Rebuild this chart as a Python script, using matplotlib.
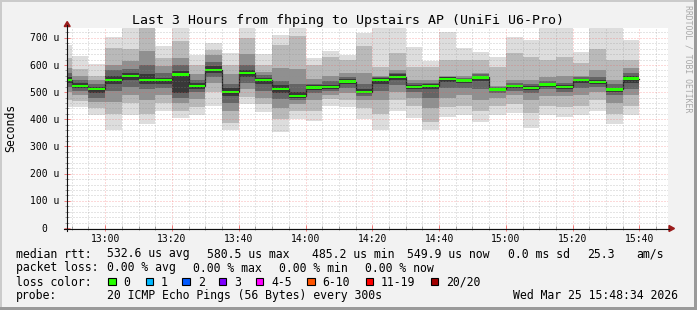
import matplotlib
matplotlib.use("Agg")
import matplotlib.pyplot as plt
from matplotlib.patches import Rectangle, Polygon
from matplotlib.lines import Line2D

W, H, DPI = 697, 310, 100
MONO = "DejaVu Sans Mono"

title = "Last 3 Hours from fhping to Upstairs AP (UniFi U6-Pro)"
y_label = "Seconds"
credit = "RRDTOOL / TOBI OETIKER"

# 5-minute slots (start, minutes after 12:00)
slot_minutes = [45 + 5 * i for i in range(35)]

median = [545, 523, 513, 545, 560, 545, 545, 565, 523, 582, 502, 569, 545, 513, 486,
          517, 520, 539, 502, 545, 557, 520, 523, 549, 543, 554, 510, 523, 516, 528,
          520, 545, 537, 510, 550]
smoke_max = [672, 633, 602, 702, 737, 760, 668, 745, 637, 680, 645, 740, 641, 711, 740,
             624, 653, 635, 717, 741, 741, 665, 613, 723, 661, 649, 631, 704, 692, 739,
             739, 649, 739, 739, 691]
smoke_min = [445, 446, 415, 360, 415, 383, 430, 405, 415, 450, 359, 458, 428, 355, 400,
             394, 450, 445, 402, 361, 430, 405, 361, 410, 415, 391, 417, 423, 369, 417,
             410, 417, 432, 381, 415]
p3_hi = [625, 585, 560, 662, 660, 740, 625, 690, 600, 655, 600, 700, 600, 672, 705,
         600, 630, 618, 668, 594, 643, 594, 594, 619, 619, 619, 594, 643, 631, 619,
         631, 606, 660, 620, 619]
p3_lo = [470, 468, 440, 420, 460, 420, 460, 430, 445, 500, 385, 482, 455, 400, 430,
         430, 475, 470, 440, 420, 470, 450, 391, 445, 450, 430, 450, 455, 425, 450,
         445, 450, 470, 420, 450]
p5_hi = [590, 560, 545, 600, 615, 650, 595, 625, 565, 635, 565, 640, 575, 590, 585,
         550, 560, 570, 570, 560, 580, 545, 545, 560, 560, 570, 521, 545, 545, 555,
         560, 560, 580, 545, 590]
p5_lo = [500, 488, 465, 465, 490, 470, 490, 460, 475, 535, 430, 510, 480, 440, 455,
         470, 490, 495, 470, 470, 500, 480, 440, 480, 490, 470, 480, 490, 470, 485,
         485, 490, 500, 460, 490]
p7_hi = [570, 545, 530, 580, 585, 600, 570, 600, 545, 612, 530, 600, 562, 540, 530,
         530, 540, 555, 530, 555, 570, 535, 535, 555, 552, 565, 518, 535, 530, 540,
         535, 555, 555, 530, 570]
p7_lo = [520, 505, 480, 505, 520, 510, 515, 480, 500, 555, 460, 535, 505, 475, 470,
         495, 505, 515, 485, 505, 525, 500, 480, 515, 515, 510, 495, 505, 495, 510,
         500, 515, 520, 490, 510]
p9_hi = [555, 533, 520, 560, 570, 565, 552, 578, 532, 595, 515, 582, 553, 525, 500,
         525, 528, 547, 512, 552, 565, 528, 530, 554, 549, 560, 514, 528, 522, 533,
         527, 550, 543, 516, 560]
p9_lo = [535, 515, 497, 530, 545, 530, 530, 495, 512, 570, 485, 555, 530, 498, 480,
         508, 512, 530, 495, 530, 545, 512, 512, 538, 533, 540, 503, 515, 508, 520,
         512, 535, 530, 502, 535]

smoke_levels = [(smoke_min, smoke_max, "#dddddd"),
                (p3_lo, p3_hi, "#b9b9b9"),
                (p5_lo, p5_hi, "#909090"),
                (p7_lo, p7_hi, "#656565"),
                (p9_lo, p9_hi, "#383838")]

view_start = 48 + 34 / 60.0   # 12:48:34
view_end = view_start + 180
y_max = 736

x_major = [60, 80, 100, 120, 140, 160, 180, 200, 220]
x_major_labels = ["13:00", "13:20", "13:40", "14:00", "14:20", "14:40", "15:00", "15:20", "15:40"]
y_major = [0, 100, 200, 300, 400, 500, 600, 700]
y_major_labels = ["0", "100 u", "200 u", "300 u", "400 u", "500 u", "600 u", "700 u"]

row1 = [(16, "median rtt:"), (107, "532.6 us avg"), (207, "580.5 us max"), (312, "485.2 us min"),
        (407, "549.9 us now"), (508, "0.0 ms sd"), (587, "25.3"), (636, "am/s")]
row2 = [(16, "packet loss:"), (107, "0.00 % avg"), (193, "0.00 % max"), (279, "0.00 % min"),
        (365, "0.00 % now")]
loss_labels = ["0", "1", "2", "3", "4-5", "6-10", "11-19", "20/20"]
loss_colors = ["#26ff00", "#00b8ff", "#0059ff", "#7e00ff", "#ff00ff", "#ff5500", "#ff0000", "#a10000"]
loss_box_x = [108.3, 145.7, 182.3, 219.0, 255.7, 307.3, 365.7, 430.7]
loss_text_x = [123.3, 161.0, 197.7, 234.3, 271.0, 322.7, 380.7, 446.0]
row4 = [(16, "probe:"), (107, "20 ICMP Echo Pings (56 Bytes) every 300s"),
        (513, "Wed Mar 25 15:48:34 2026")]

# ---------------------------------------------------------------
fig = plt.figure(figsize=(W / DPI, H / DPI), dpi=DPI)
fig.patch.set_facecolor("#f2f2f2")


def fx(x):
    return x / W


def fy(y):
    return 1 - y / H


PLOT_L, PLOT_R, PLOT_T, PLOT_B = 67, 668, 28, 228
ax = fig.add_axes([fx(PLOT_L), fy(PLOT_B), (PLOT_R - PLOT_L) / W, (PLOT_B - PLOT_T) / H])
ax.set_facecolor("white")
ax.set_xlim(view_start, view_end)
ax.set_ylim(0, y_max)
for s in ax.spines.values():
    s.set_visible(False)

# smoke
for z, (lo, hi, col) in enumerate(smoke_levels):
    ax.bar(slot_minutes, [h - l for l, h in zip(lo, hi)], bottom=lo, width=5, align="edge",
           color=col, linewidth=0, antialiased=False, zorder=2 + z)

# median: dark step line + green loss-colour band
xs = slot_minutes + [slot_minutes[-1] + 5]
ys = median + [median[-1]]
ax.step(xs, ys, where="post", color="#202020", lw=0.9, zorder=8)
ax.bar(slot_minutes, [8] * len(median), bottom=[m - 4 for m in median], width=5, align="edge",
       color="#26ff00", linewidth=0, antialiased=False, zorder=9)

# dotted grid on top (rrdtool style)
dot = (0, (1, 2))
minor_c = (0.55, 0.55, 0.55, 0.45)
major_c = (0.95, 0.35, 0.35, 0.45)
gkw = dict(lw=0.72, ls=dot, antialiased=True)
for m in range(50, 230, 5):
    if m not in x_major:
        ax.axvline(m, color=minor_c, zorder=12, **gkw)
for v in range(20, y_max, 20):
    if v % 100:
        ax.axhline(v, color=minor_c, zorder=12, **gkw)
for m in x_major:
    ax.axvline(m, color=major_c, zorder=13, **gkw)
for v in y_major[1:]:
    ax.axhline(v, color=major_c, zorder=13, **gkw)

ax.set_xticks(x_major)
ax.set_xticks([m for m in range(50, 230, 5) if m not in x_major], minor=True)
ax.set_yticks(y_major)
ax.set_yticks([v for v in range(20, y_max, 20) if v % 100], minor=True)
ax.tick_params(which="major", direction="inout", length=4, width=0.72, colors="#f08080",
               labelbottom=False, labelleft=False)
ax.tick_params(which="minor", direction="inout", length=3, width=0.72, colors="#a0a0a0")

# axes lines and arrows
fig.add_artist(Line2D([fx(64), fx(669)], [fy(228.5), fy(228.5)], color="#101010", lw=0.8))
fig.add_artist(Line2D([fx(67.2), fx(67.2)], [fy(231), fy(25)], color="#101010", lw=0.8))
fig.add_artist(Polygon([[fx(67.2), fy(21.5)], [fx(64.2), fy(26.5)], [fx(70.2), fy(26.5)]],
                       closed=True, color="#9b1c1c", transform=fig.transFigure))
fig.add_artist(Polygon([[fx(674.5), fy(228.5)], [fx(669), fy(225.5)], [fx(669), fy(231.5)]],
                       closed=True, color="#9b1c1c", transform=fig.transFigure))

# tick labels
AX_FS = 7.05
for m, lab in zip(x_major, x_major_labels):
    xp = PLOT_L + (m - view_start) / (view_end - view_start) * (PLOT_R - PLOT_L)
    fig.text(fx(xp), fy(241.7), lab, ha="center", va="baseline", family=MONO, fontsize=AX_FS)
for v, lab in zip(y_major, y_major_labels):
    yp = PLOT_B - v / y_max * (PLOT_B - PLOT_T)
    xr = 59.5 if lab != "0" else 47.5
    fig.text(fx(xr), fy(yp + 3.6), lab, ha="right", va="baseline", family=MONO, fontsize=AX_FS)

# title, axis label, credit
fig.text(fx(348), fy(24), title, ha="center", va="baseline", family=MONO, fontsize=9.52)
fig.text(fx(10.7), fy(128), y_label, ha="center", va="center", rotation=90, family=MONO,
         fontsize=8.3)
fig.text(fx(688.3), fy(59), credit, ha="center", va="center", rotation=270, family=MONO,
         fontsize=5.9, color="#a8a8a8")

# legend
LG_FS = 8.3
for x, t in row1:
    fig.text(fx(x), fy(257.5), t, ha="left", va="baseline", family=MONO, fontsize=LG_FS)
for x, t in row2:
    fig.text(fx(x), fy(271.5), t, ha="left", va="baseline", family=MONO, fontsize=LG_FS)
fig.text(fx(16), fy(285.5), "loss color:", ha="left", va="baseline", family=MONO, fontsize=LG_FS)
for bx, tx, lab, col in zip(loss_box_x, loss_text_x, loss_labels, loss_colors):
    fig.add_artist(Rectangle((fx(bx), fy(285.3)), 7.4 / W, 7.6 / H, facecolor=col,
                             edgecolor="black", lw=0.8, transform=fig.transFigure))
    fig.text(fx(tx), fy(285.5), lab, ha="left", va="baseline", family=MONO, fontsize=LG_FS)
for x, t in row4:
    fig.text(fx(x), fy(299.3), t, ha="left", va="baseline", family=MONO, fontsize=LG_FS)

# 3D frame
fig.add_artist(Rectangle((0, fy(2)), 1, 2 / H, color="#cbcbcb", lw=0, transform=fig.transFigure))
fig.add_artist(Rectangle((0, 0), 2 / W, 1, color="#cbcbcb", lw=0, transform=fig.transFigure))
fig.add_artist(Rectangle((0, 0), 1, 3 / H, color="#9a9a9a", lw=0, transform=fig.transFigure))
fig.add_artist(Rectangle((fx(694), 0), 3 / W, 1, color="#9a9a9a", lw=0, transform=fig.transFigure))

fig.savefig("out.png", dpi=DPI, facecolor=fig.get_facecolor())
